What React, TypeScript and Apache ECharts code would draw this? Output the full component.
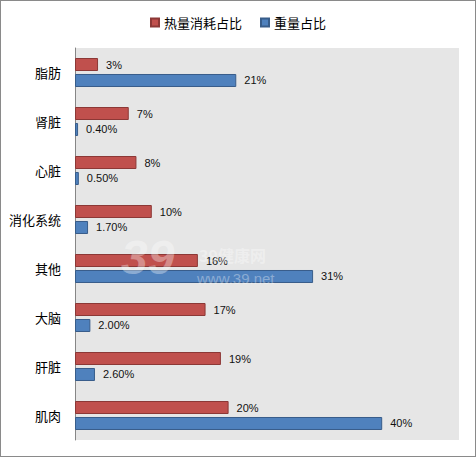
import React, { useEffect, useRef } from "react";
import * as echarts from "echarts";

const categories = ["脂肪", "肾脏", "心脏", "消化系统", "其他", "大脑", "肝脏", "肌肉"];
const heatShare = [3, 7, 8, 10, 16, 17, 19, 20];
const weightShare = [21, 0.4, 0.5, 1.7, 31, 2.0, 2.6, 40];
const seriesNames = ["热量消耗占比", "重量占比"];

// small shares are shown with two decimals, like the source sheet
const fmt = (v: number) => (v < 10 ? v.toFixed(2) : String(v)) + "%";

const App = () => {
  const chartRef = useRef<HTMLDivElement>(null);

  useEffect(() => {
    const chart = echarts.init(chartRef.current, null, { renderer: "svg" });
    const font = '"Noto Sans CJK SC", sans-serif';
    const labelStyle = {
      show: true,
      position: "right",
      distance: 8,
      color: "#111",
      fontSize: 11,
      fontFamily: "'Liberation Sans', Arial, sans-serif",
    };
    const mark = "rgba(255,255,255,0.35)";

    chart.setOption({
      animation: false,
      textStyle: { fontFamily: font },
      legend: {
        top: 10,
        left: "center",
        itemWidth: 8,
        itemHeight: 8,
        itemGap: 18,
        icon: "rect",
        textStyle: { fontSize: 13, color: "#000", fontFamily: font },
        data: seriesNames,
      },
      grid: { left: 74, top: 47, right: 16, bottom: 16, show: true, backgroundColor: "#e6e6e6", borderWidth: 0 },
      xAxis: {
        type: "value",
        min: 0,
        max: 50,
        show: false,
        splitLine: { show: false },
      },
      yAxis: {
        type: "category",
        inverse: true,
        data: categories,
        axisLine: { lineStyle: { color: "#868686" } },
        axisTick: { show: false },
        axisLabel: { color: "#000", fontSize: 13, margin: 14, fontFamily: font },
      },
      graphic: [
        {
          type: "text",
          left: 120,
          top: 232,
          silent: true,
          style: { text: "39", fontSize: 48, fontWeight: "bold", fontStyle: "italic", fill: mark, fontFamily: "Arial" },
          z: 100,
        },
        {
          type: "text",
          left: 198,
          top: 246,
          silent: true,
          style: { text: "39健康网", fontSize: 16, fontWeight: "bold", fill: mark, fontFamily: font },
          z: 100,
        },
        {
          type: "text",
          left: 196,
          top: 270,
          silent: true,
          style: { text: "www.39.net", fontSize: 15, fill: mark, fontFamily: "Arial" },
          z: 100,
        },
      ],
      series: [
        {
          name: seriesNames[0],
          type: "bar",
          data: heatShare,
          barWidth: 13,
          barGap: "23%",
          itemStyle: { color: "#C0504D", borderColor: "#8C3836", borderWidth: 1 },
          label: { ...labelStyle, formatter: (p: any) => p.value + "%" },
        },
        {
          name: seriesNames[1],
          type: "bar",
          data: weightShare,
          barWidth: 13,
          barGap: "23%",
          itemStyle: { color: "#4F81BD", borderColor: "#385D8A", borderWidth: 1 },
          label: { ...labelStyle, formatter: (p: any) => fmt(p.value) },
        },
      ],
    });
    return () => {
      chart.dispose();
    };
  }, []);

  return (
    <div
      ref={chartRef}
      style={{
        position: "fixed",
        left: 0,
        top: 0,
        width: 476,
        height: 457,
        boxSizing: "border-box",
        border: "1px solid #8a8a8a",
        background: "#fff",
      }}
    />
  );
};

export default App;
